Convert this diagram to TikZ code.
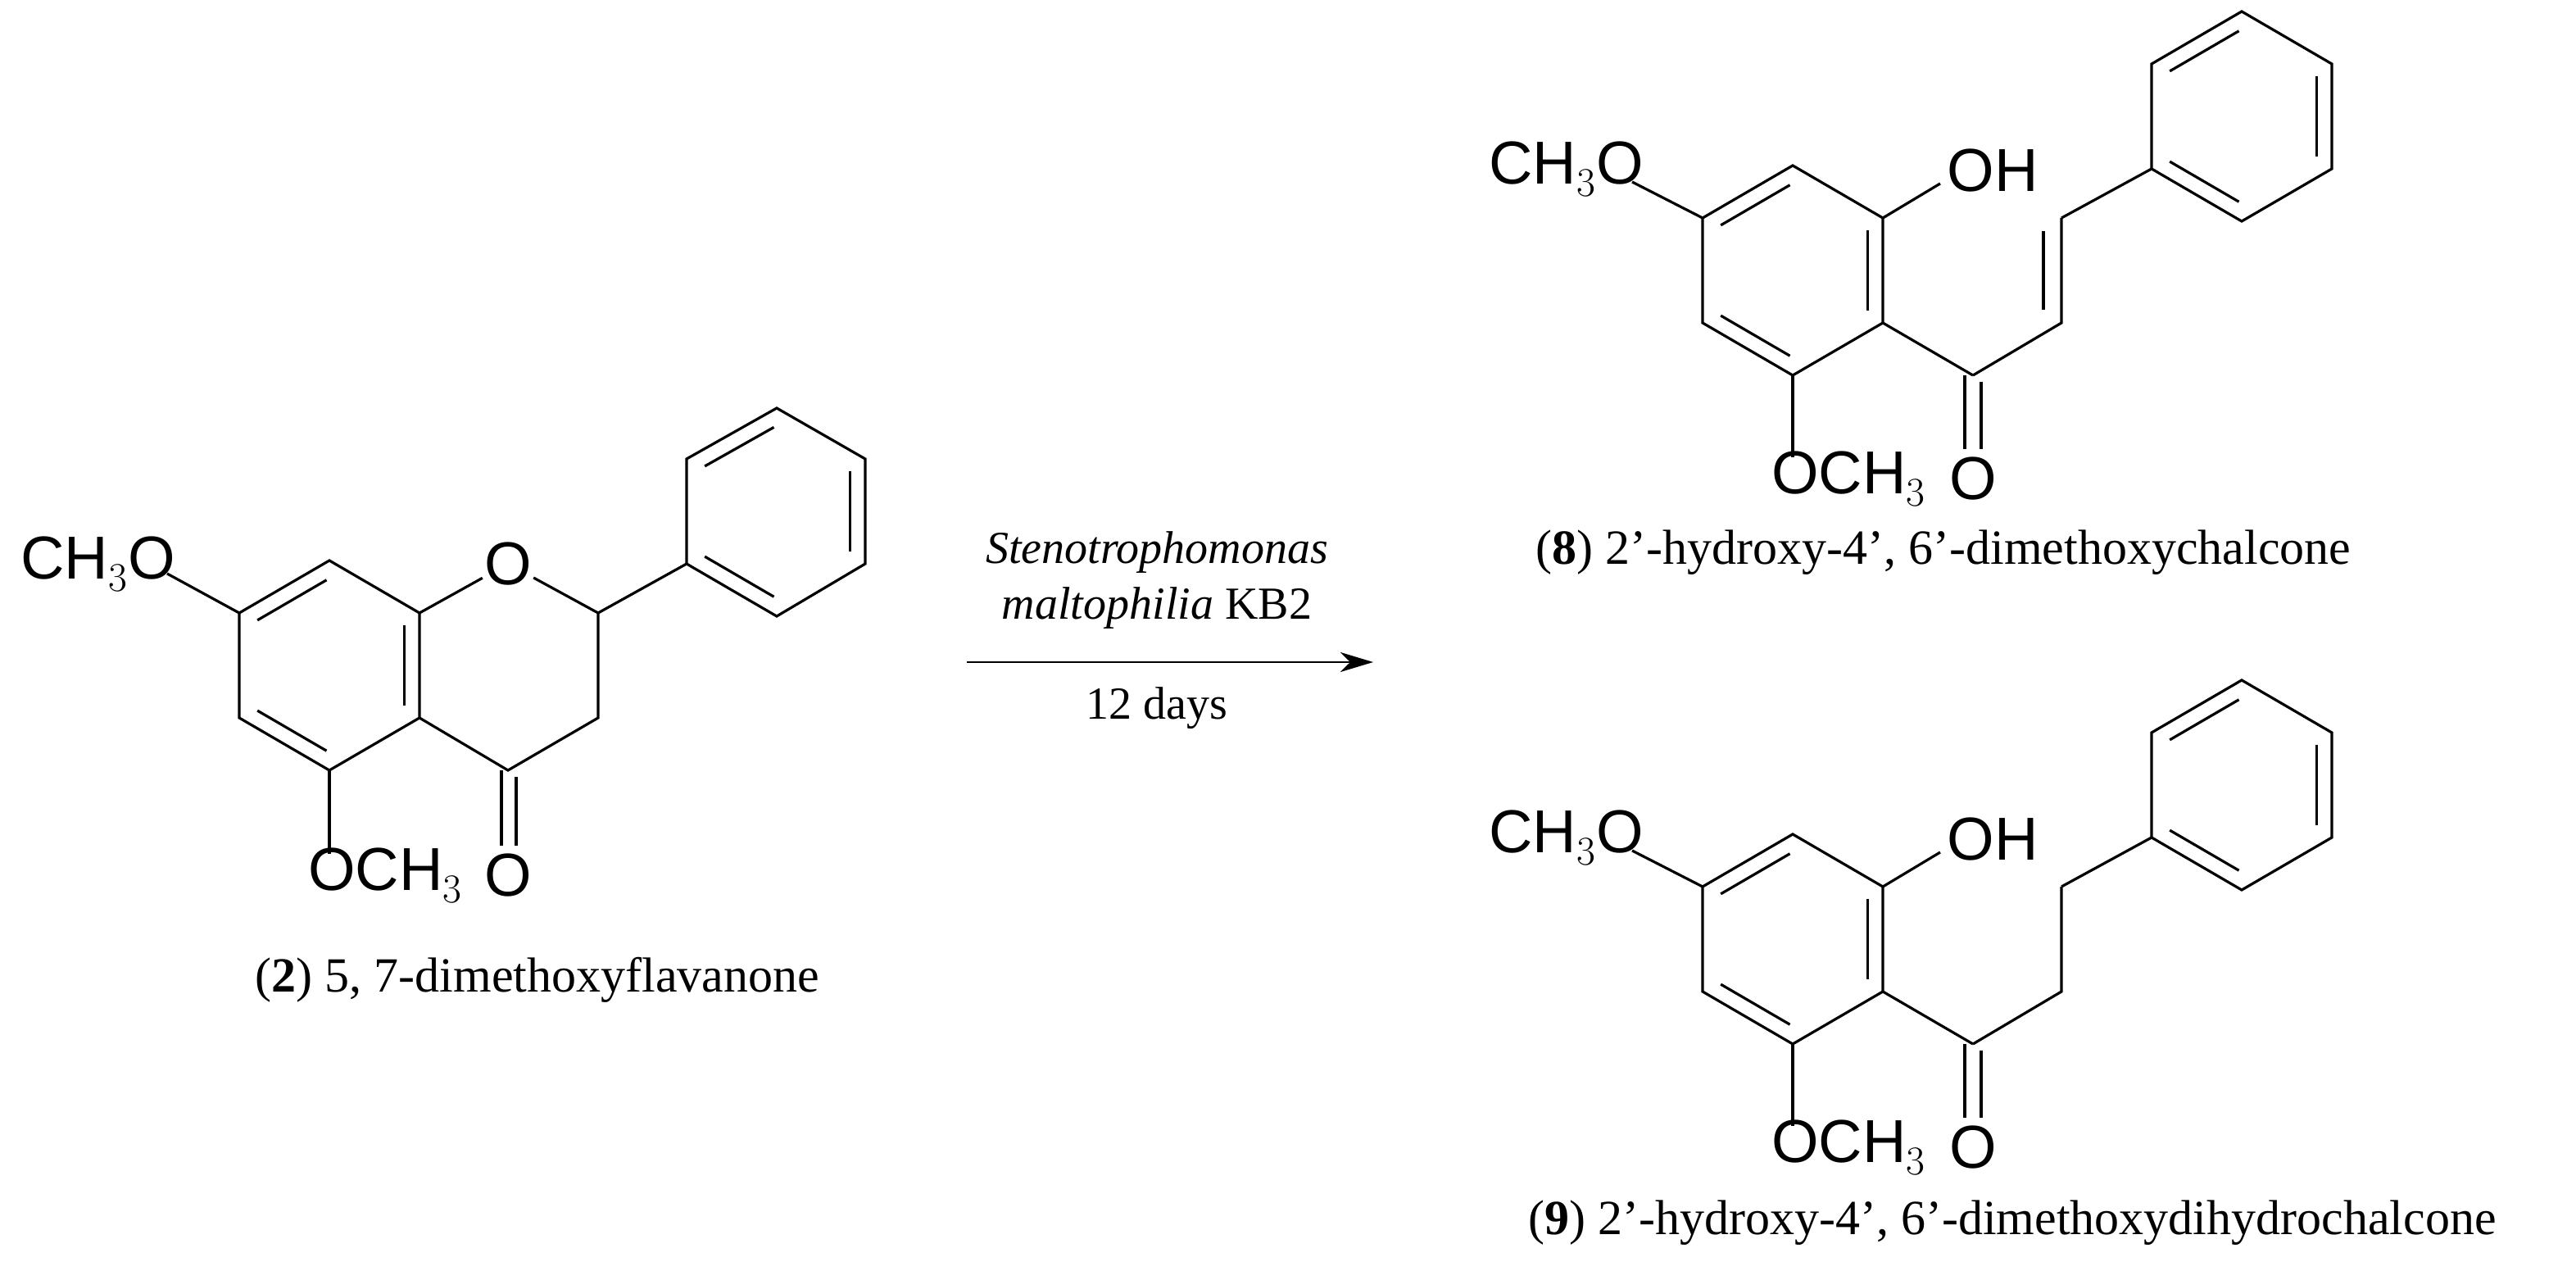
\documentclass[tikz,border=0pt]{standalone}
\usepackage{fontspec}
\setmainfont{Liberation Serif}
\setsansfont{Liberation Sans}
\usetikzlibrary{calc,arrows.meta}
\tikzset{
  bond/.style={line width=1.6pt},
  inb/.style={line width=1.6pt, shorten <=2pt, shorten >=2pt},
  atom/.style={font=\sffamily\fontsize{37}{40}\selectfont, inner sep=1pt},
  captxt/.style={font=\fontsize{30}{34}\selectfont, inner sep=0pt},
  cond/.style={font=\fontsize{28}{32}\selectfont, inner sep=0pt}
}
\newcommand{\innerline}[3]{\draw[inb] ($(#1)!0.17!(#3)$) -- ($(#2)!0.17!(#3)$);}
\newcommand{\chalcone}[1]{%
  \coordinate (c) at (1094,165);
  \coordinate (b1) at (1094,101); \coordinate (b2) at (1039,133);
  \coordinate (b3) at (1039,197); \coordinate (b4) at (1094,229);
  \coordinate (b5) at (1149,197); \coordinate (b6) at (1149,133);
  \draw[bond] (b1)--(b2)--(b3)--(b4)--(b5)--(b6)--cycle;
  \innerline{b2}{b1}{c}\innerline{b6}{b5}{c}\innerline{b3}{b4}{c}
  \node[atom,anchor=east] (meo) at (1004,103) {CH$_3$O};
  \coordinate (meoE) at (996,111);
  \draw[bond] (b2)--(meoE);
  \node[atom] (oh) at (1216,104) {OH};
  \coordinate (ohE) at (1184,112);
  \draw[bond] (b6)--(ohE);
  \coordinate (omeE) at (1094,279);
  \draw[bond] (b4)--(omeE);
  \node[atom,anchor=west] (ome) at (1080,292) {OCH$_3$};
  \coordinate (cc) at (1204,229);
  \node[atom] (ox) at (1204,292) {O};
  \draw[bond] (b5)--(cc);
  \draw[bond] ($(cc)+(-5,0)$) -- ($(cc)+(-5,45)$);
  \draw[bond] ($(cc)+(5,4)$) -- ($(cc)+(5,45)$);
  \coordinate (ca) at (1258,197); \coordinate (cb) at (1258,133);
  \draw[bond] (cc)--(ca)--(cb);
  #1
  \coordinate (pc) at (1368,71);
  \coordinate (q1) at (1313,103); \coordinate (q2) at (1313,39);
  \coordinate (q3) at (1368,7); \coordinate (q4) at (1423,39);
  \coordinate (q5) at (1423,103); \coordinate (q6) at (1368,135);
  \draw[bond] (cb)--(q1);
  \draw[bond] (q1)--(q2)--(q3)--(q4)--(q5)--(q6)--cycle;
  \innerline{q2}{q3}{pc}\innerline{q4}{q5}{pc}\innerline{q1}{q6}{pc}
}
\begin{document}
\begin{tikzpicture}[x=1pt,y=-1pt]
\useasboundingbox (0,0) rectangle (1572,775.5);
% compound 2
\coordinate (cA) at (201,406);
\coordinate (a1) at (201,342); \coordinate (a2) at (146,374);
\coordinate (a3) at (146,438); \coordinate (a4) at (201,470);
\coordinate (a5) at (256,438); \coordinate (a6) at (256,374);
\draw[bond] (a1)--(a2)--(a3)--(a4)--(a5)--(a6)--cycle;
\innerline{a2}{a1}{cA}\innerline{a6}{a5}{cA}\innerline{a3}{a4}{cA}
\node[atom] (o1) at (310,344) {O};
\coordinate (c2) at (365,374); \coordinate (c3) at (365,438);
\coordinate (c4) at (310,470);
\draw[bond] (a6)--(o1)--(c2)--(c3)--(c4)--(a5);
\node[atom] (o4) at (310,534) {O};
\draw[bond] (306,470)--(306,516);
\draw[bond] (315,474)--(315,516);
\node[atom,anchor=east] (meo2) at (108,344) {CH$_3$O};
\coordinate (meo2E) at (102,350);
\draw[bond] (a2)--(meo2E);
\coordinate (ome2E) at (201,521);
\draw[bond] (a4)--(ome2E);
\node[atom,anchor=west] (ome2) at (187,534) {OCH$_3$};
\coordinate (pC) at (474,312);
\coordinate (p1) at (419,344); \coordinate (p2) at (419,280);
\coordinate (p3) at (474,249); \coordinate (p4) at (528,280);
\coordinate (p5) at (528,344); \coordinate (p6) at (474,376);
\draw[bond] (c2)--(p1);
\draw[bond] (p1)--(p2)--(p3)--(p4)--(p5)--(p6)--cycle;
\innerline{p2}{p3}{pC}\innerline{p4}{p5}{pC}\innerline{p1}{p6}{pC}
\node[captxt] (cap2) at (328,598) {(\textbf{2}) 5, 7-dimethoxyflavanone};
% arrow
\coordinate (arS) at (590,404);
\coordinate (arE) at (838,404);
\draw[line width=1.4pt,-{Stealth[length=20pt,width=12pt,inset=6pt]}] (arS)--(arE);
\node[cond] (t1) at (706,337) {\textit{Stenotrophomonas}};
\node[cond] (t2) at (706,371) {\textit{maltophilia} KB2};
\node[cond] (t3) at (706,432) {12 days};
% compound 8
\begin{scope}[name prefix=e-]
\chalcone{\draw[inb] ($(ca)+(-11,-6)$)--($(cb)+(-11,6)$);}
\end{scope}
\node[captxt] (cap8) at (1186,337) {(\textbf{8}) 2'-hydroxy-4', 6'-dimethoxychalcone};
% compound 9
\begin{scope}[shift={(0,408)},name prefix=d-]
\chalcone{}
\end{scope}
\node[captxt] (cap9) at (1228,746) {(\textbf{9}) 2'-hydroxy-4', 6'-dimethoxydihydrochalcone};
\end{tikzpicture}
\end{document}
